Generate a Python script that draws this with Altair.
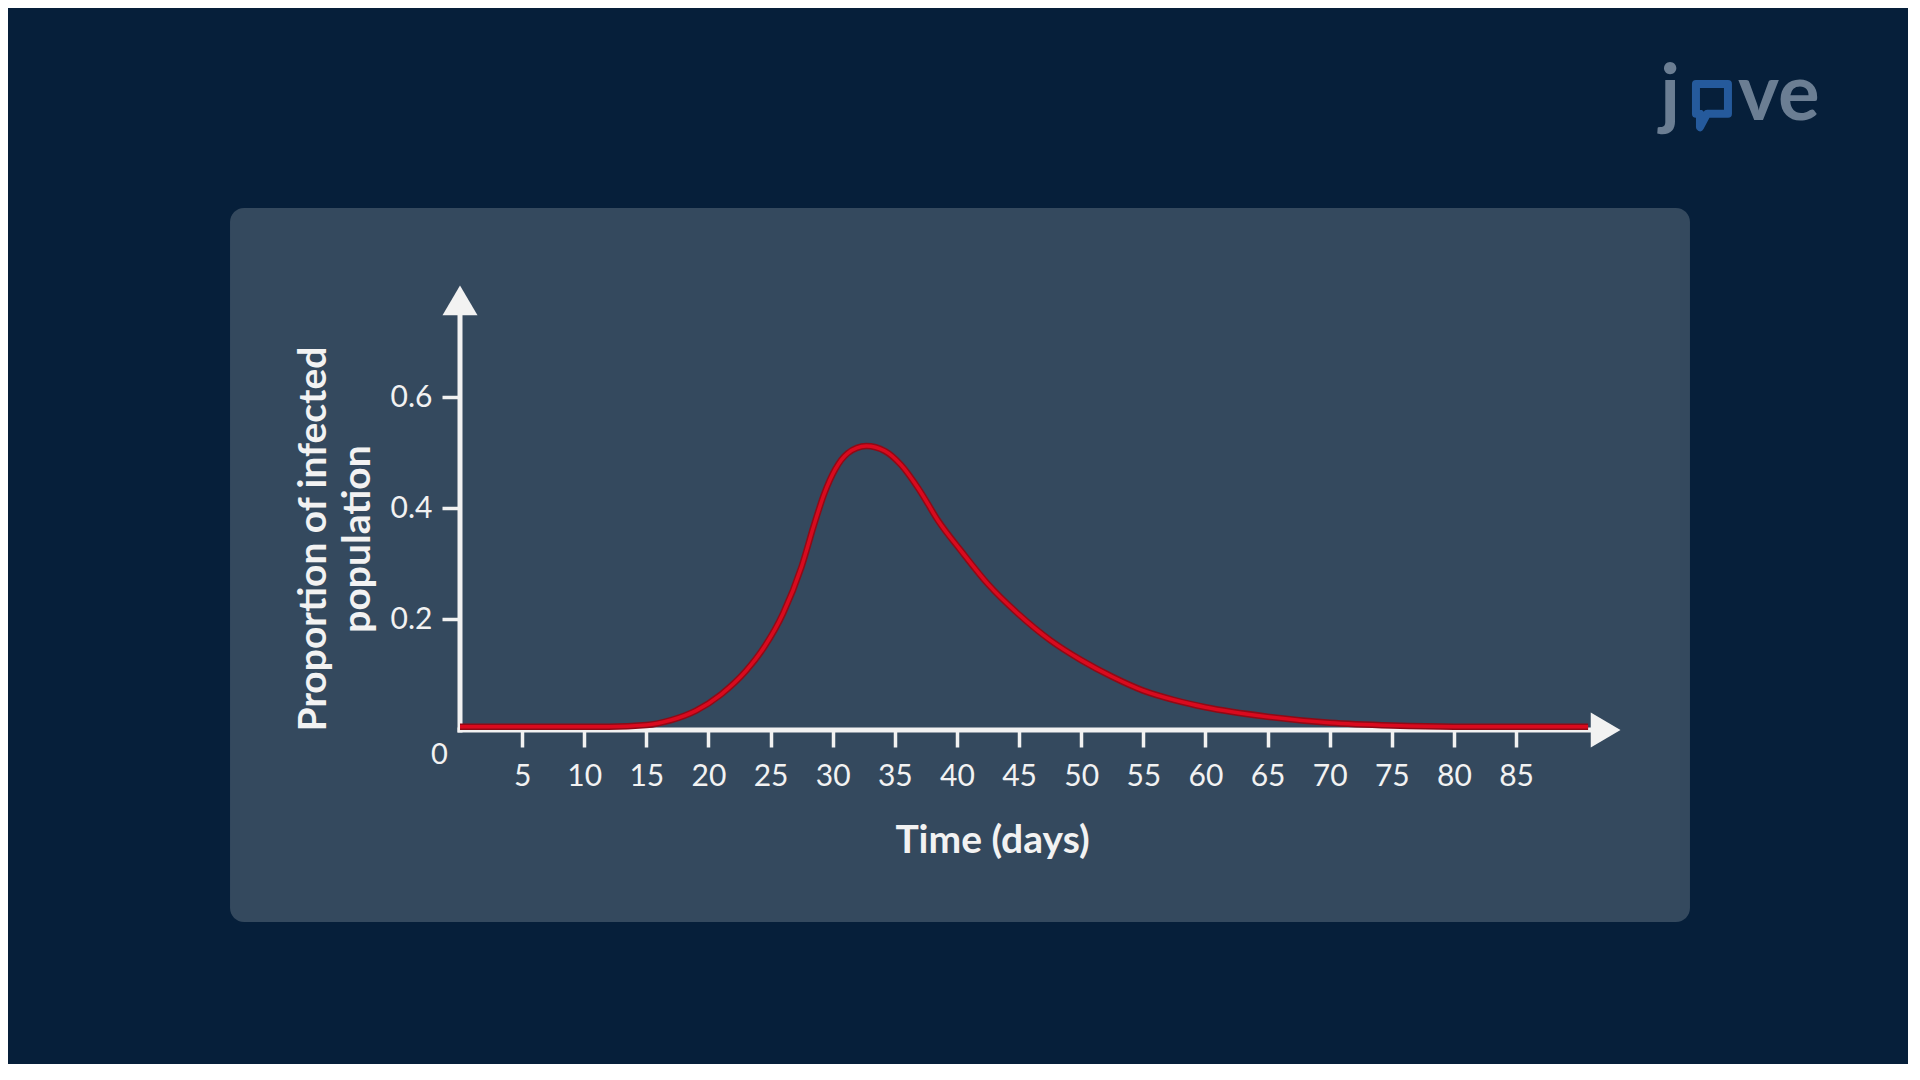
import altair as alt
import pandas as pd

# ---- data ----
days = [0, 5, 10, 12, 15, 17, 19, 21, 23, 24.5, 26, 27.5, 28.5, 29.3, 30.2,
        31.2, 32.7, 34.2, 35.5, 37, 38.5, 40.3, 42.5, 45, 47.5, 50, 52.5, 55,
        57.5, 60, 65, 70, 75, 80, 85, 90.8]
infected = [0.006, 0.006, 0.006, 0.006, 0.009, 0.018, 0.035, 0.064, 0.106, 0.150,
            0.210, 0.295, 0.370, 0.425, 0.470, 0.499, 0.512, 0.503, 0.478, 0.432,
            0.377, 0.324, 0.263, 0.208, 0.162, 0.126, 0.096, 0.071, 0.054, 0.041,
            0.024, 0.013, 0.008, 0.006, 0.006, 0.006]
x_ticks = [5, 10, 15, 20, 25, 30, 35, 40, 45, 50, 55, 60, 65, 70, 75, 80, 85]
y_ticks = [0.2, 0.4, 0.6]
x_title = "Time (days)"
y_title = ["Proportion of infected", "population"]
zero_label = ["0"]
x_max = 92
y_max = 0.77

# ---- styling ----
BG = "#061f3a"
PANEL = "#34495e"
WHITE = "#f2f2f2"
FONT = "Lato"

curve = pd.DataFrame({"x": days, "y": infected})
panel = pd.DataFrame({"x": [-18.51], "x2": [99.0], "y": [0.9414], "y2": [-0.3463]})
x_line = pd.DataFrame({"x": [0], "x2": [x_max], "y": [0]})
y_line = pd.DataFrame({"x": [0], "y": [0], "y2": [y_max]})
x_arrow = pd.DataFrame({"x": [x_max], "y": [0]})
y_arrow = pd.DataFrame({"x": [0], "y": [y_max]})
zero_df = pd.DataFrame({"x": [-1.65], "y": [-0.045], "t": zero_label})
logo_text = pd.DataFrame({"x": [96.6, 102.87], "y": [1.100, 1.100], "t": ["j", "ve"]})
logo_bubble = pd.DataFrame({"x": [100.77], "y": [1.136]})

xs = alt.Scale(domain=[0, x_max], nice=False, zero=False)
ys = alt.Scale(domain=[0, y_max], nice=False, zero=False)

xaxis = alt.Axis(
    values=x_ticks, format="d", title=x_title, grid=False, domain=False,
    tickColor=WHITE, tickWidth=3.5, tickSize=17,
    labelFont=FONT, labelFontSize=30, labelColor=WHITE, labelPadding=29,
    labelBaseline="middle", labelFlush=False, labelOverlap=False,
    titleFont=FONT, titleFontSize=39, titleFontWeight="bold", titleColor=WHITE,
    titleX=532, titleY=122, titleAlign="center", titleBaseline="alphabetic",
    zindex=1,
)
yaxis = alt.Axis(
    values=y_ticks, format=".1f", title=y_title, grid=False, domain=False,
    tickColor=WHITE, tickWidth=3.5, tickSize=18,
    labelFont=FONT, labelFontSize=30, labelColor=WHITE, labelPadding=10,
    labelBaseline="middle", labelFlush=False, labelOverlap=False,
    titleFont=FONT, titleFontSize=39, titleFontWeight="bold", titleColor=WHITE,
    titleAngle=-90, titleX=-127, titleY=235.5, titleAlign="center",
    titleBaseline="bottom", titleLineHeight=44,
    zindex=1,
)

X = lambda f="x": alt.X(f"{f}:Q", scale=xs, axis=xaxis)
Y = lambda f="y": alt.Y(f"{f}:Q", scale=ys, axis=yaxis)

panel_l = alt.Chart(panel).mark_rect(fill=PANEL, cornerRadius=14).encode(
    x=X(), x2="x2:Q", y=Y(), y2="y2:Q")

xline_l = alt.Chart(x_line).mark_rule(color=WHITE, strokeWidth=5, strokeCap="square").encode(
    x=X(), x2="x2:Q", y=Y())
yline_l = alt.Chart(y_line).mark_rule(color=WHITE, strokeWidth=5, strokeCap="square").encode(
    x=X(), y=Y(), y2="y2:Q")

curve_dark = alt.Chart(curve).mark_line(color="#8f0a16", strokeWidth=6.5,
                                        interpolate="monotone").encode(x=X(), y=Y())
curve_bright = alt.Chart(curve).mark_line(color="#d90a1e", strokeWidth=3.5,
                                          interpolate="monotone").encode(x=X(), y=Y())

xarrow_l = alt.Chart(x_arrow).mark_point(
    shape="M1,0L-0.7,-1L-0.7,1Z", size=1225, filled=True, fill=WHITE,
    opacity=1, strokeWidth=0).encode(x=X(), y=Y())
yarrow_l = alt.Chart(y_arrow).mark_point(
    shape="M0,-1L1,0.7L-1,0.7Z", size=1225, filled=True, fill=WHITE,
    opacity=1, strokeWidth=0).encode(x=X(), y=Y())

zero_l = alt.Chart(zero_df).mark_text(
    font=FONT, fontSize=29, color=WHITE, align="center", baseline="middle").encode(
    x=X(), y=Y(), text="t:N")

logo_t = alt.Chart(logo_text).mark_text(
    font=FONT, fontSize=78, fontWeight="bold", color="#6b7e93",
    align="left", baseline="alphabetic").encode(x=X(), y=Y(), text="t:N")
logo_b = alt.Chart(logo_bubble).mark_point(
    shape="M-1,-1L1,-1L1,0.85L-0.3,0.85L-0.75,1.7L-0.75,0.85L-1,0.85Z",
    size=1024, filled=False, stroke="#255a9c", strokeWidth=8, opacity=1,
    strokeJoin="round").encode(x=X(), y=Y())

chart = alt.layer(
    panel_l, xline_l, yline_l, curve_dark, curve_bright, xarrow_l, yarrow_l,
    zero_l, logo_t, logo_b,
).properties(
    width=1143, height=427,
    padding={"left": 452, "top": 295, "right": 305, "bottom": 334},
    autosize=alt.AutoSizeParams(type="none"),
    background=BG,
).configure_view(stroke=None)

chart.save("out.html", embed_options={"renderer": "svg", "actions": False})
